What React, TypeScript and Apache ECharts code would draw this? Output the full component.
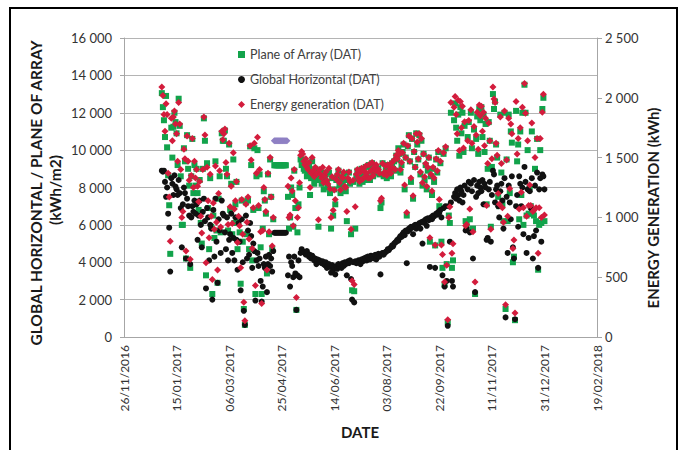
import React, { useEffect, useRef } from 'react';
import * as echarts from 'echarts';

// x axis: days counted from 26/11/2016 (ticks every 50 days)
const AXIS_ORIGIN = Date.UTC(2016, 10, 26);
const DAY_MS = 86400000;
const X_MIN = 0;
const X_MAX = 450;
const X_STEP = 50;

const seriesNames = ['Plane of Array (DAT)', 'Global Horizontal (DAT)', 'Energy generation (DAT)'];

// Daily Global Horizontal irradiation, 2017, one array per month
const ghiByMonth: (number | null)[][] = [
  [8900, 8850, 8900, 8300, 7500, 8000, 6600, 5850, 3500, 8500, 8200, 7600, 8650, 8050, 7900, 7600, 8400, 7700, 6900, 4800, 7100, 8000, 7700, 4200, 7400, 7000, 6500, 3900, 6400, 7000, 6700],
  [7300, 6600, 7100, 5200, 6500, 7300, 6000, 4800, 6700, 7400, 6200, 2600, 6900, 6400, 4100, 6000, 5800, 2000, 6800, 4300, 7400, 5100, 2900, 6300, 5700, 4500, 7300, 6600],
  [6500, 5600, 4700, 6400, 4100, 5200, 5500, 6600, 4500, 5300, 4100, 6400, 5200, 3600, 6100, 5100, 2500, 6300, 4000, 1400, 650, 6500, 4200, 5700, 4400, 6100, 5400, 3700, 5000, 4600, 1950],
  [4100, 4500, 3800, 4200, 3000, 1900, 2700, 3900, 3700, 4300, 2400, 3900, 4400, 3800, 4200, 3500, 4600, 5580, 5580, 5580, 5580, 5580, 5580, 5580, 5580, 5580, 5580, 5580, 5580],
  [3300, 4300, 2700, 4000, 3800, 3200, 4300, 3400, 1450, 3300, 4100, 3200, 4500, 4700, 4600, 4550, 4500, 4400, 4600, 4450, 4300, 4400, 4200, 4350, 4250, 4100, 4200, 3900, 4150, 4000, 4100],
  [4000, 3950, 4050, 3900, 3850, 4000, 3700, 3800, 3900, 3750, 3450, 3850, 3600, 3700, 3350, 3800, 3650, 3900, 3750, 3850, 3700, 3950, 3800, 4000, 3900, 3300, 4050, 3950, 4100, 3100],
  [2000, 4000, 1850, 4050, 3950, 4000, 4100, 4050, 3900, 4150, 4050, 4200, 4100, 4250, 4100, 4300, 4200, 4150, 4350, 4250, 4300, 4200, 4400, 4150, 4350, 4450, 4300, 3350, 4450, 4500, 4400],
  [4500, 4550, 4600, 4700, 4650, 4750, 4800, 4900, 4850, 5000, 5050, 5100, 5200, 5150, 5300, 5400, 5350, 5500, 5600, 5450, 5700, 3950, 5650, 5800, 5750, 5900, 5850, 5500, 5950, 6000, 5800],
  [6000, 5900, 6100, 5800, 6150, 5000, 6200, 6100, 6300, 5950, 6350, 6250, 3750, 6400, 6300, 6500, 6450, 3700, 6600, 6550, 6700, 6650, 6800, 6400, 3300, 6900, 2700, 7000, 3000, 600],
  [7000, 5100, 7200, 3000, 2700, 7500, 7700, 7400, 7900, 7600, 7300, 8000, 7800, 7200, 7600, 8100, 5700, 5800, 7900, 8300, 5600, 8200, 7800, 4200, 8400, 2400, 7500, 8100, 7700, 8300, 8000],
  [7800, 8400, 7100, 8200, 8000, 5200, 5300, 7900, 8300, 5100, 7600, 8900, 8700, 7200, 7900, 8100, 7000, 6400, 7800, 8200, 7300, 5800, 8500, 1050, 7500, 4500, 8100, 7200, 6300, 8600],
  [4800, 4200, 950, 7000, 7600, 5900, 8600, 8200, 7000, 8000, 5500, 9100, 8300, 4500, 7900, 5300, 7800, 6900, 8500, 4200, 5400, 8100, 5700, 8800, 3700, 7900, 8500, 5100, 8700, 8600, 7900],
];

// Daily Plane of Array irradiation, 2017
const poaByMonth: (number | null)[][] = [
  [13050, 12300, 11600, 10700, 12900, 10150, 8650, 7050, 4450, 11200, 9600, 11250, 12000, 11500, 10900, 9200, 12750, 11300, 8600, 6000, 6000, 10100, 9400, 4200, 10800, 9000, 8100, 3700, 8600, 10600, 7700],
  [9200, 8100, 9000, 7700, 6800, 8400, 6100, 5000, 9000, 11700, 10500, 3300, 9300, 6900, 4700, 8500, 5900, 2300, 6500, 5300, 9400, 5700, 2900, 7400, 8600, 5600, 10900, 10500],
  [10500, 11050, 9000, 8600, 5700, 10300, 6800, 8200, 5500, 9500, 6100, 7100, 8300, 4700, 6300, 5600, 2850, 7300, 5100, 1500, 650, 7200, 5500, 7300, 4700, 10200, 9200, 4100, 6800, 10100, 2300],
  [8600, 10000, 6900, 8700, 4800, 2300, 5800, 7800, 7300, 6600, 3400, 8700, 5500, 9500, 7500, 4700, 6300, 9190, 9190, 9190, 9190, 9190, 9190, 9190, 9190, 9190, 9190, 9190, 9190],
  [7500, 5800, 6400, 8000, 7600, 5900, 8900, 6900, 1450, 5600, 7100, 8000, 9500, 9200, 9500, 9000, 8900, 9300, 8600, 8800, 9100, 7600, 8500, 9400, 8700, 8200, 9000, 8400, 8600, 5900, 8800],
  [8500, 8200, 8800, 7900, 8400, 8700, 8300, 8000, 8800, 7700, 5800, 8500, 6500, 7900, 7100, 8400, 8600, 8900, 8100, 7700, 8500, 8300, 8700, 8000, 7800, 6200, 8400, 8800, 8200, 5500],
  [2500, 8300, 2450, 5800, 8600, 8900, 8500, 8200, 8700, 9000, 8300, 8800, 8500, 9100, 8700, 8400, 9200, 8400, 8900, 9300, 8600, 9000, 8800, 9100, 8800, 9000, 8700, 6900, 7200, 9300, 8600],
  [8700, 9000, 8500, 9200, 8800, 9100, 8600, 9300, 9000, 9400, 8900, 9700, 9500, 10100, 9800, 8800, 9200, 9900, 10300, 7900, 9600, 6500, 10200, 10800, 9400, 8300, 10600, 7400, 9900, 9100, 10900],
  [10300, 9500, 10800, 8700, 10500, 8100, 9800, 8400, 9200, 7900, 8900, 9600, 5100, 8600, 7600, 9000, 8300, 4900, 9500, 8800, 9900, 7000, 9300, 5100, 3700, 9800, 2800, 10100, 3900, 800],
  [6500, 6100, 12000, 3700, 4100, 11600, 12500, 11200, 10500, 11900, 9700, 12300, 10900, 12000, 9900, 11300, 6200, 6000, 10700, 11500, 6300, 12000, 10100, 5800, 11100, 2300, 10600, 11800, 9800, 12200, 11600],
  [12300, 10700, 11900, 9900, 11400, 7100, 9000, 11500, 10500, 5900, 9100, 13000, 12200, 12600, 10300, 9600, 7500, 7000, 11900, 8800, 7100, 6200, 12000, 1500, 9500, 6200, 11900, 7700, 11000, 10400],
  [4000, 4300, 900, 12100, 9400, 10300, 6300, 11000, 7600, 12000, 6000, 13500, 12000, 6500, 10000, 6600, 8000, 7000, 11000, 6600, 6500, 9000, 6200, 10600, 3600, 6000, 10000, 6100, 12200, 12800, 6200],
];

// Daily energy generation (kWh), 2017
const energyByMonth: (number | null)[][] = [
  [2090, 2020, 1860, 1720, 1950, 1860, 1370, 1170, 800, 1830, 1640, 1840, 1890, 1780, 1700, 1470, 1960, 1780, 1400, 1000, 1050, 1570, 1490, 720, 1680, 1470, 1310, 650, 1350, 1660, 1250],
  [1470, 1330, 1400, 1260, 1130, 1300, 1010, 870, 1400, 1840, 1690, 620, 1420, 1140, 830, 1360, 1010, 480, 1120, 900, 1430, 960, 560, 1200, 1390, 920, 1720, 1650],
  [1700, 1740, 1460, 1360, 940, 1620, 1090, 1260, 950, 1540, 1070, 1140, 1300, 790, 1010, 930, 580, 1150, 860, 290, 135, 1110, 960, 1170, 820, 1600, 1480, 740, 1080, 1620, 430],
  [1370, 1670, 1100, 1400, 880, 280, 890, 1250, 1150, 1050, 560, 1370, 880, 1500, 1170, 760, 1000, null, null, null, null, null, null, null, null, null, null, null, null],
  [1260, 1000, 1020, 1330, 1220, 930, 1400, 1140, 330, 1000, 1080, 1290, 1520, 1550, 1530, 1470, 1440, 1490, 1420, 1400, 1460, 1250, 1370, 1500, 1390, 1340, 1420, 1360, 1370, 980, 1400],
  [1360, 1330, 1420, 1290, 1350, 1380, 1310, 1280, 1410, 1240, 1000, 1340, 1060, 1230, 1150, 1320, 1360, 1400, 1290, 1230, 1340, 1330, 1380, 1260, 1250, 1050, 1330, 1380, 1300, 900],
  [470, 1310, 440, 1090, 1360, 1400, 1330, 1300, 1380, 1410, 1320, 1390, 1340, 1430, 1370, 1330, 1440, 1330, 1390, 1460, 1350, 1420, 1390, 1440, 1390, 1400, 1370, 1140, 1160, 1450, 1360],
  [1380, 1430, 1350, 1440, 1390, 1420, 1370, 1460, 1410, 1480, 1400, 1520, 1490, 1560, 1530, 1400, 1460, 1540, 1620, 1270, 1500, 1040, 1600, 1680, 1470, 1330, 1660, 1180, 1550, 1420, 1700],
  [1630, 1490, 1700, 1380, 1660, 1290, 1530, 1340, 1450, 1260, 1420, 1500, 830, 1360, 1220, 1420, 1330, 770, 1490, 1390, 1560, 1150, 1470, 770, 690, 1540, 460, 1590, 600, 145],
  [1000, 1090, 1960, 700, 780, 1920, 2010, 1860, 1700, 1980, 1560, 1970, 1750, 1930, 1580, 1800, 930, 940, 1640, 1810, 1070, 1900, 1620, 880, 1760, 460, 1690, 1880, 1570, 1940, 1850],
  [1930, 1720, 1880, 1600, 1830, 1100, 1450, 1790, 1640, 900, 1490, 2090, 1990, 1960, 1620, 1520, 1200, 1110, 1840, 1450, 1080, 960, 1890, 270, 1480, 1010, 1830, 1240, 1780, 1700],
  [740, 810, 200, 1970, 1530, 1660, 1070, 1750, 1210, 1920, 1080, 2120, 1870, 1010, 1640, 1100, 1270, 1100, 1790, 1050, 1060, 1500, 1080, 1660, 700, 1080, 1660, 1000, 1880, 2030, 1020],
];

// Gap-filled energy values (18/04/2017 – 30/04/2017), shown in a different colour
const energyFilledStart = { month: 3, day: 18 };
const energyFilled = [1640, 1640, 1640, 1640, 1640, 1640, 1640, 1640, 1640, 1640, 1640, 1640, 1640];

const GREEN = '#12a34b';
const BLACK = '#111111';
const RED = '#d31c3c';
const PURPLE = '#8f80c4';

const dayOffset = (m: number, d: number) => (Date.UTC(2017, m, d) - AXIS_ORIGIN) / DAY_MS;

function toPoints(byMonth: (number | null)[][]) {
  const pts: number[][] = [];
  byMonth.forEach((vals, m) => {
    vals.forEach((v, i) => {
      if (v !== null && v !== undefined) pts.push([dayOffset(m, i + 1), v]);
    });
  });
  return pts;
}

const fmtNum = (v: number) => String(v).replace(/\B(?=(\d{3})+(?!\d))/g, ' ');
const fmtDate = (v: number) => {
  const d = new Date(AXIS_ORIGIN + v * DAY_MS);
  const dd = String(d.getUTCDate()).padStart(2, '0');
  const mm = String(d.getUTCMonth() + 1).padStart(2, '0');
  return `${dd}/${mm}/${d.getUTCFullYear()}`;
};

const FONT = 'Lato, "Open Sans", sans-serif';

export default function App() {
  const ref = useRef<HTMLDivElement>(null);
  useEffect(() => {
    if (!ref.current) return;
    const chart = echarts.init(ref.current, undefined, { renderer: 'svg' });
    const filledPts = energyFilled.map((v, i) => [dayOffset(energyFilledStart.month, energyFilledStart.day + i), v]);
    chart.setOption({
      animation: false,
      backgroundColor: '#ffffff',
      textStyle: { fontFamily: FONT },
      grid: { left: 124, right: 89, top: 38, bottom: 113 },
      legend: {
        data: seriesNames,
        orient: 'vertical',
        left: 233,
        top: 43,
        itemWidth: 7,
        itemHeight: 7,
        itemGap: 12,
        textStyle: { fontSize: 12.5, color: '#404040', fontFamily: FONT },
      },
      xAxis: {
        type: 'value',
        min: X_MIN,
        max: X_MAX,
        interval: X_STEP,
        axisLine: { show: true, onZero: false, lineStyle: { color: '#a6a6a6' } },
        axisTick: { show: false },
        splitLine: { show: false },
        axisLabel: { rotate: 90, margin: 8, fontSize: 12, color: '#333', formatter: fmtDate, fontFamily: FONT },
      },
      yAxis: [
        {
          type: 'value',
          position: 'left',
          min: 0,
          max: 16000,
          interval: 2000,
          axisLine: { show: true, lineStyle: { color: '#a6a6a6' } },
          axisTick: { show: true, length: 4, lineStyle: { color: '#a6a6a6' } },
          splitLine: { show: true, lineStyle: { color: '#b4b4b4', width: 1 } },
          axisLabel: { fontSize: 13, color: '#333', margin: 12, formatter: fmtNum, fontFamily: FONT },
        },
        {
          type: 'value',
          position: 'right',
          min: 0,
          max: 2500,
          interval: 500,
          axisLine: { show: true, lineStyle: { color: '#a6a6a6' } },
          axisTick: { show: true, length: 5, lineStyle: { color: '#a6a6a6' } },
          splitLine: { show: false },
          axisLabel: { fontSize: 13, color: '#333', margin: 8, formatter: fmtNum, fontFamily: FONT },
        },
      ],
      series: [
        {
          name: seriesNames[0],
          type: 'scatter',
          symbol: 'rect',
          symbolSize: 6,
          itemStyle: { color: GREEN, opacity: 1 },
          data: toPoints(poaByMonth),
        },
        {
          name: seriesNames[1],
          type: 'scatter',
          symbol: 'circle',
          symbolSize: 6,
          itemStyle: { color: BLACK, opacity: 1 },
          data: toPoints(ghiByMonth),
        },
        {
          name: seriesNames[2],
          type: 'scatter',
          symbol: 'diamond',
          symbolSize: 7,
          yAxisIndex: 1,
          itemStyle: { color: RED, opacity: 1 },
          data: toPoints(energyByMonth),
        },
        {
          name: 'Energy generation (filled)',
          type: 'scatter',
          symbol: 'diamond',
          symbolSize: 7,
          yAxisIndex: 1,
          itemStyle: { color: PURPLE, opacity: 1 },
          data: filledPts,
        },
      ],
      graphic: [
        {
          type: 'rect',
          silent: true,
          shape: { x: 10, y: 8, width: 667, height: 470 },
          style: { fill: 'none', stroke: '#000', lineWidth: 2 },
        },
        {
          type: 'text',
          x: 36,
          y: 193,
          rotation: Math.PI / 2,
          style: { text: 'GLOBAL HORIZONTAL / PLANE OF ARRAY', font: `bold 15.5px ${FONT}`, fill: '#1a1a1a', align: 'center', verticalAlign: 'middle' },
        },
        {
          type: 'text',
          x: 55,
          y: 190,
          rotation: Math.PI / 2,
          style: { text: '(kWh/m2)', font: `bold 15.5px ${FONT}`, fill: '#1a1a1a', align: 'center', verticalAlign: 'middle' },
        },
        {
          type: 'text',
          x: 653,
          y: 208,
          rotation: Math.PI / 2,
          style: { text: 'ENERGY GENERATION (kWh)', font: `bold 15px ${FONT}`, fill: '#1a1a1a', align: 'center', verticalAlign: 'middle' },
        },
        {
          type: 'text',
          x: 360,
          y: 432,
          style: { text: 'DATE', font: `bold 15px ${FONT}`, fill: '#1a1a1a', align: 'center', verticalAlign: 'middle' },
        },
      ],
    });
    return () => chart.dispose();
  }, []);
  return <div ref={ref} style={{ position: 'fixed', left: 0, top: 0, width: 686, height: 450 }} />;
}
